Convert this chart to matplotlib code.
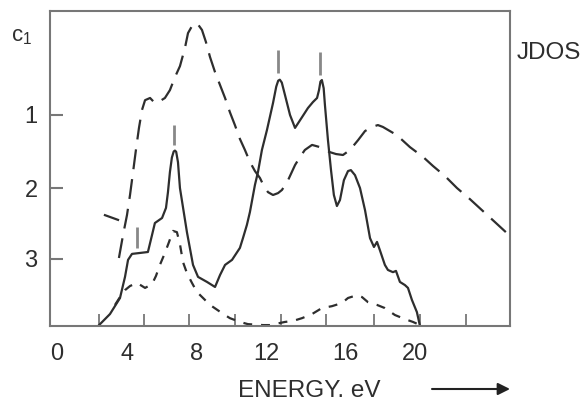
import numpy as np
import matplotlib
matplotlib.use("Agg")
import matplotlib.pyplot as plt

plt.rcParams['font.family'] = ['Liberation Sans', 'DejaVu Sans']

# solid curve (epsilon-like spectrum), energy in eV vs height (0..100 of axes)
solid_x = [2.3, 2.96, 3.52, 3.80, 3.97, 4.19, 4.64, 5.08, 5.31, 5.47, 5.87, 6.09, 6.20, 6.31,
           6.42, 6.52, 6.59, 6.66, 6.76, 6.87, 7.26, 7.60, 7.88, 8.38, 8.83, 9.11, 9.39, 9.78, 10.22,
           10.39, 10.61, 10.78, 11.06, 11.23, 11.45, 11.73, 12.07, 12.25, 12.36, 12.45, 12.56,
           12.74, 13.02, 13.30, 13.69, 14.02, 14.30, 14.53, 14.64, 14.72, 14.80, 14.90, 14.97,
           15.14, 15.31, 15.47, 15.64, 15.81, 16.03, 16.26, 16.42, 16.65, 16.93, 17.21,
           17.49, 17.71, 17.88, 18.04, 18.32, 18.49, 18.77, 18.94, 19.16, 19.44, 19.61,
           19.83, 20.11, 20.28]
solid_y = [0.0, 3.8, 8.9, 15.6, 21.0, 22.9, 23.2, 23.5, 28.9, 32.7, 34.3, 37.5, 42.5, 48.9,
           53.5, 55.4, 55.7, 55.3, 52.0, 43.8, 29.8, 19.4, 15.6, 14.0, 12.4, 16.2, 19.4, 21.0, 24.8,
           27.9, 32.1, 36.2, 44.8, 48.9, 55.9, 62.2, 70.8, 76.0, 77.9, 78.2, 77.3,
           73.3, 67.0, 62.9, 66.3, 69.2, 71.1, 72.4, 74.9, 77.6, 78.1, 75.5, 70.2,
           59.0, 49.5, 41.6, 38.1, 40.0, 46.3, 49.2, 49.5, 47.9, 43.8, 36.8,
           27.9, 25.1, 26.7, 24.1, 19.4, 17.8, 17.1, 17.5, 14.0, 13.0, 12.1,
           8.3, 4.4, 0.0]

# long dashed curve (JDOS)
jdos_x = [3.46, 3.69, 3.91, 4.08, 4.25, 4.41, 4.58, 4.75, 4.92, 5.20, 5.47, 5.75, 6.03,
          6.31, 6.59, 6.87, 7.15, 7.32, 7.54, 7.82, 8.10, 8.32, 8.55, 8.83, 9.11, 9.39,
          9.66, 9.94, 10.22, 10.50, 10.78, 11.06, 11.34, 11.56, 11.79, 12.07, 12.35,
          12.57, 12.91, 13.30, 13.58, 13.85, 14.25, 14.69, 14.97, 15.25, 15.59, 15.98,
          16.37, 16.82, 17.21, 17.60, 17.93, 18.21, 18.60, 18.99, 19.72, 20.45, 21.01,
          21.68, 22.35, 23.07, 23.74, 24.47, 25.31]
jdos_y = [21.6, 28.9, 35.2, 41.6, 48.9, 55.9, 62.9, 68.6, 71.7, 72.4, 70.8, 71.4, 72.4,
          74.9, 79.0, 82.5, 88.3, 93.0, 95.2, 96.2, 94.0, 90.2, 85.4, 80.6, 76.5, 72.4,
          67.9, 63.8, 59.4, 55.9, 52.1, 49.2, 47.0, 44.4, 42.5, 41.6, 42.2,
          43.2, 46.3, 51.1, 53.7, 55.9, 57.5, 56.8, 55.9, 55.2, 54.6, 54.3,
          55.9, 59.0, 61.9, 63.2, 63.8, 63.2, 61.9, 60.6, 56.8, 53.7, 50.8,
          47.6, 43.8, 40.3, 36.8, 33.0, 28.6]
stub_x = [2.68, 3.41]
stub_y = [35.2, 33.7]

# short dashed curve
short_x = [3.24, 3.52, 3.80, 4.08, 4.47, 4.92, 5.31, 5.53, 5.75, 6.03, 6.26, 6.48, 6.70,
           6.87, 7.04, 7.26, 7.54, 7.82, 8.16, 8.55, 9.22, 9.66, 10.22, 10.67, 11.51,
           11.90, 12.74, 13.18, 13.69, 14.25, 14.80, 15.36, 15.92, 16.26, 16.76, 17.04,
           17.37, 17.88, 18.32, 18.88, 19.44, 19.89, 20.28]
short_y = [6.7, 9.2, 11.4, 12.7, 13.7, 12.1, 13.3, 15.9, 19.4, 23.2, 26.7, 30.2, 29.8,
           26.0, 20.3, 16.8, 13.7, 10.8, 8.9, 6.7, 4.1, 2.5, 1.3, 0.6, 0.3,
           0.3, 1.3, 1.6, 2.5, 3.8, 5.7, 6.3, 7.3, 8.9, 9.8, 9.2,
           7.6, 6.7, 5.7, 3.5, 2.2, 1.3, 0.3]

# peak markers
mark_x = [4.47, 6.54, 12.35, 14.69]
mark_lo = [24.8, 57.5, 80.3, 79.7]
mark_hi = [31.4, 63.8, 87.6, 87.0]

xtick_pos = [2.35, 4.86, 7.37, 9.94, 12.51, 15.03, 17.71, 20.28, 22.85]
xlabel_pos = [0, 3.89, 7.82, 11.72, 16.13, 20.0]
xlabels = ['0', '4', '8', '12', '16', '20']
ytick_pos = [67.0, 43.8, 21.3]
ylabels = ['1', '2', '3']

ink = '#2e2e2e'
fig = plt.figure(figsize=(5.87, 4.03), dpi=100)
ax = fig.add_axes([0.0852, 0.191, 0.7836, 0.7816])

ax.plot(solid_x, solid_y, color=ink, lw=1.6, solid_joinstyle='round')
ax.plot(jdos_x, jdos_y, color=ink, lw=1.6, linestyle=(0, (9, 4.5)), dash_joinstyle='round')
ax.plot(stub_x, stub_y, color=ink, lw=1.6)
ax.plot(short_x, short_y, color=ink, lw=1.6, linestyle=(0, (4, 4)), dash_joinstyle='round')
ax.vlines(mark_x, mark_lo, mark_hi, color='#888888', lw=2)

ax.set_xlim(-0.39, 25.31)
ax.set_ylim(0, 100)

ax.set_xticks(xtick_pos)
ax.set_xticklabels([])
ax.set_xticks(xlabel_pos, minor=True)
ax.set_xticklabels(xlabels, minor=True)
ax.tick_params(axis='x', which='major', direction='in', length=9, width=1.3, color='#777777')
ax.tick_params(axis='x', which='minor', length=0, pad=12, labelsize=17, labelcolor=ink)

ax.set_yticks(ytick_pos)
ax.set_yticklabels(ylabels)
ax.tick_params(axis='y', direction='in', length=9, width=1.5, color='#777777',
               pad=9, labelsize=17, labelcolor=ink)

for s in ax.spines.values():
    s.set_color('#777777')
    s.set_linewidth(1.5)

fig.text(22 / 587, 1 - 37 / 403, r'$\mathregular{c_1}$', fontsize=16, color=ink,
         ha='center', va='center')
fig.text(517 / 587, 1 - 53 / 403, 'JDOS', fontsize=17.5, color=ink, ha='left', va='center')
fig.text(309 / 587, 1 - 391 / 403, 'ENERGY. eV', fontsize=17.5, color=ink,
         ha='center', va='center')
ax.annotate('', xy=(510 / 587, 1 - 389 / 403), xytext=(432 / 587, 1 - 389 / 403),
            xycoords='figure fraction', textcoords='figure fraction',
            arrowprops=dict(arrowstyle='-|>', color='#222222', lw=1.5,
                            mutation_scale=18, shrinkA=0, shrinkB=0))

fig.savefig('out.png', dpi=100)
